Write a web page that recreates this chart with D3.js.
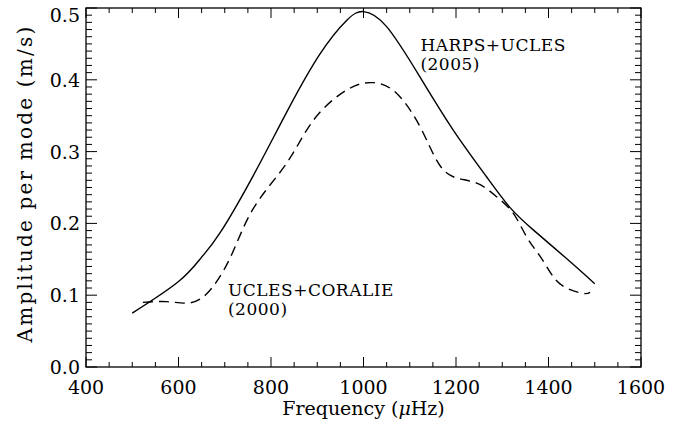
<!DOCTYPE html>
<html>
<head>
<meta charset="utf-8">
<script src="https://cdn.jsdelivr.net/npm/d3@7"></script>
<style>
  body { margin: 0; background: #fff; }
  svg text { font-family: "DejaVu Serif", serif; fill: #000; }
</style>
</head>
<body>
<div id="chart"></div>
<script>
// HARPS+UCLES (2005), solid
var freq2005 = [500, 600, 650, 690, 762, 834, 906, 964, 1000, 1050, 1122, 1194, 1266, 1317, 1367, 1439, 1500];
var amp2005  = [0.075, 0.119, 0.153, 0.187, 0.267, 0.355, 0.436, 0.483, 0.495, 0.474, 0.404, 0.330, 0.265, 0.222, 0.191, 0.151, 0.116];

// UCLES+CORALIE (2000), dashed
var freq2000 = [523, 574, 618, 661, 711, 762, 834, 892, 964, 1021, 1072, 1122, 1158, 1194, 1245, 1288, 1324, 1353, 1382, 1410, 1439, 1475, 1490];
var amp2000  = [0.090, 0.091, 0.089, 0.102, 0.151, 0.221, 0.284, 0.344, 0.386, 0.396, 0.381, 0.335, 0.288, 0.265, 0.256, 0.237, 0.214, 0.181, 0.154, 0.126, 0.110, 0.1025, 0.104];

var xTicks = [400, 600, 800, 1000, 1200, 1400, 1600];
var yTicks = [0.0, 0.1, 0.2, 0.3, 0.4, 0.5];

var margin = {top: 8, left: 86, right: 42, bottom: 66},
    width = 683, height = 433,
    w = width - margin.left - margin.right,
    h = height - margin.top - margin.bottom;

var svg = d3.select("#chart").append("svg")
    .attr("width", width)
    .attr("height", height);

var g = svg.append("g")
    .attr("transform", "translate(" + margin.left + "," + margin.top + ")");

var x = d3.scaleLinear().domain([400, 1600]).range([0, w]);
var y = d3.scaleLinear().domain([0, 0.5]).range([h, 0]);

var xMinor = d3.range(400, 1601, 50);
var yMinor = d3.range(0, 51).map(function(d){ return d / 100; });

// frame
g.append("rect")
    .attr("width", w).attr("height", h)
    .attr("fill", "none").attr("stroke", "#000").attr("stroke-width", 1.3);

function isMajorX(v){ return v % 200 === 0; }
function isMajorY(v){ return Math.round(v * 100) % 10 === 0; }

// x ticks bottom + top
xMinor.forEach(function(v){
    var len = isMajorX(v) ? 10 : 5;
    g.append("line").attr("x1", x(v)).attr("x2", x(v)).attr("y1", h).attr("y2", h - len)
        .attr("stroke", "#000").attr("stroke-width", 1);
    g.append("line").attr("x1", x(v)).attr("x2", x(v)).attr("y1", 0).attr("y2", len)
        .attr("stroke", "#000").attr("stroke-width", 1);
});
yMinor.forEach(function(v){
    var len = isMajorY(v) ? 11 : 6;
    g.append("line").attr("y1", y(v)).attr("y2", y(v)).attr("x1", 0).attr("x2", len)
        .attr("stroke", "#000").attr("stroke-width", 1);
    g.append("line").attr("y1", y(v)).attr("y2", y(v)).attr("x1", w).attr("x2", w - len)
        .attr("stroke", "#000").attr("stroke-width", 1);
});

// tick labels
g.selectAll(".xl").data(xTicks).enter().append("text")
    .attr("x", function(d){ return x(d); })
    .attr("y", h + 27)
    .attr("text-anchor", "middle")
    .style("font-size", "19px")
    .text(function(d){ return d; });

g.selectAll(".yl").data(yTicks).enter().append("text")
    .attr("x", -6)
    .attr("y", function(d){ return Math.max(y(d) + 7, 14); })
    .attr("text-anchor", "end")
    .style("font-size", "19px")
    .text(function(d){ return d.toFixed(1); });

// axis titles
var xt = g.append("text")
    .attr("x", w / 2).attr("y", h + 48)
    .attr("text-anchor", "middle")
    .style("font-size", "19px");
xt.append("tspan").text("Frequency (");
xt.append("tspan").style("font-style", "italic").text("μ");
xt.append("tspan").text("Hz)");

g.append("text")
    .attr("transform", "translate(" + (-54) + "," + (h / 2 - 4) + ") rotate(-90)")
    .attr("text-anchor", "middle")
    .style("font-size", "20px")
    .style("letter-spacing", "2.2px")
    .text("Amplitude per mode (m/s)");

// curves
var line = d3.line()
    .x(function(d){ return x(d[0]); })
    .y(function(d){ return y(d[1]); })
    .curve(d3.curveNatural);

g.append("path")
    .datum(d3.zip(freq2005, amp2005))
    .attr("d", line)
    .attr("fill", "none").attr("stroke", "#000").attr("stroke-width", 1.4);

g.append("path")
    .datum(d3.zip(freq2000, amp2000))
    .attr("d", line)
    .attr("fill", "none").attr("stroke", "#000").attr("stroke-width", 1.4)
    .attr("stroke-dasharray", "10,6");

// annotations
function label(px, py, lines){
    var t = g.append("text").style("font-size", "17px").style("letter-spacing", "0.5px");
    lines.forEach(function(s, i){
        t.append("tspan").attr("x", px).attr("y", py + i * 19).text(s);
    });
}
label(x(1123), 43, ["HARPS+UCLES", "(2005)"]);
label(x(707), 288, ["UCLES+CORALIE", "(2000)"]);
</script>
</body>
</html>
